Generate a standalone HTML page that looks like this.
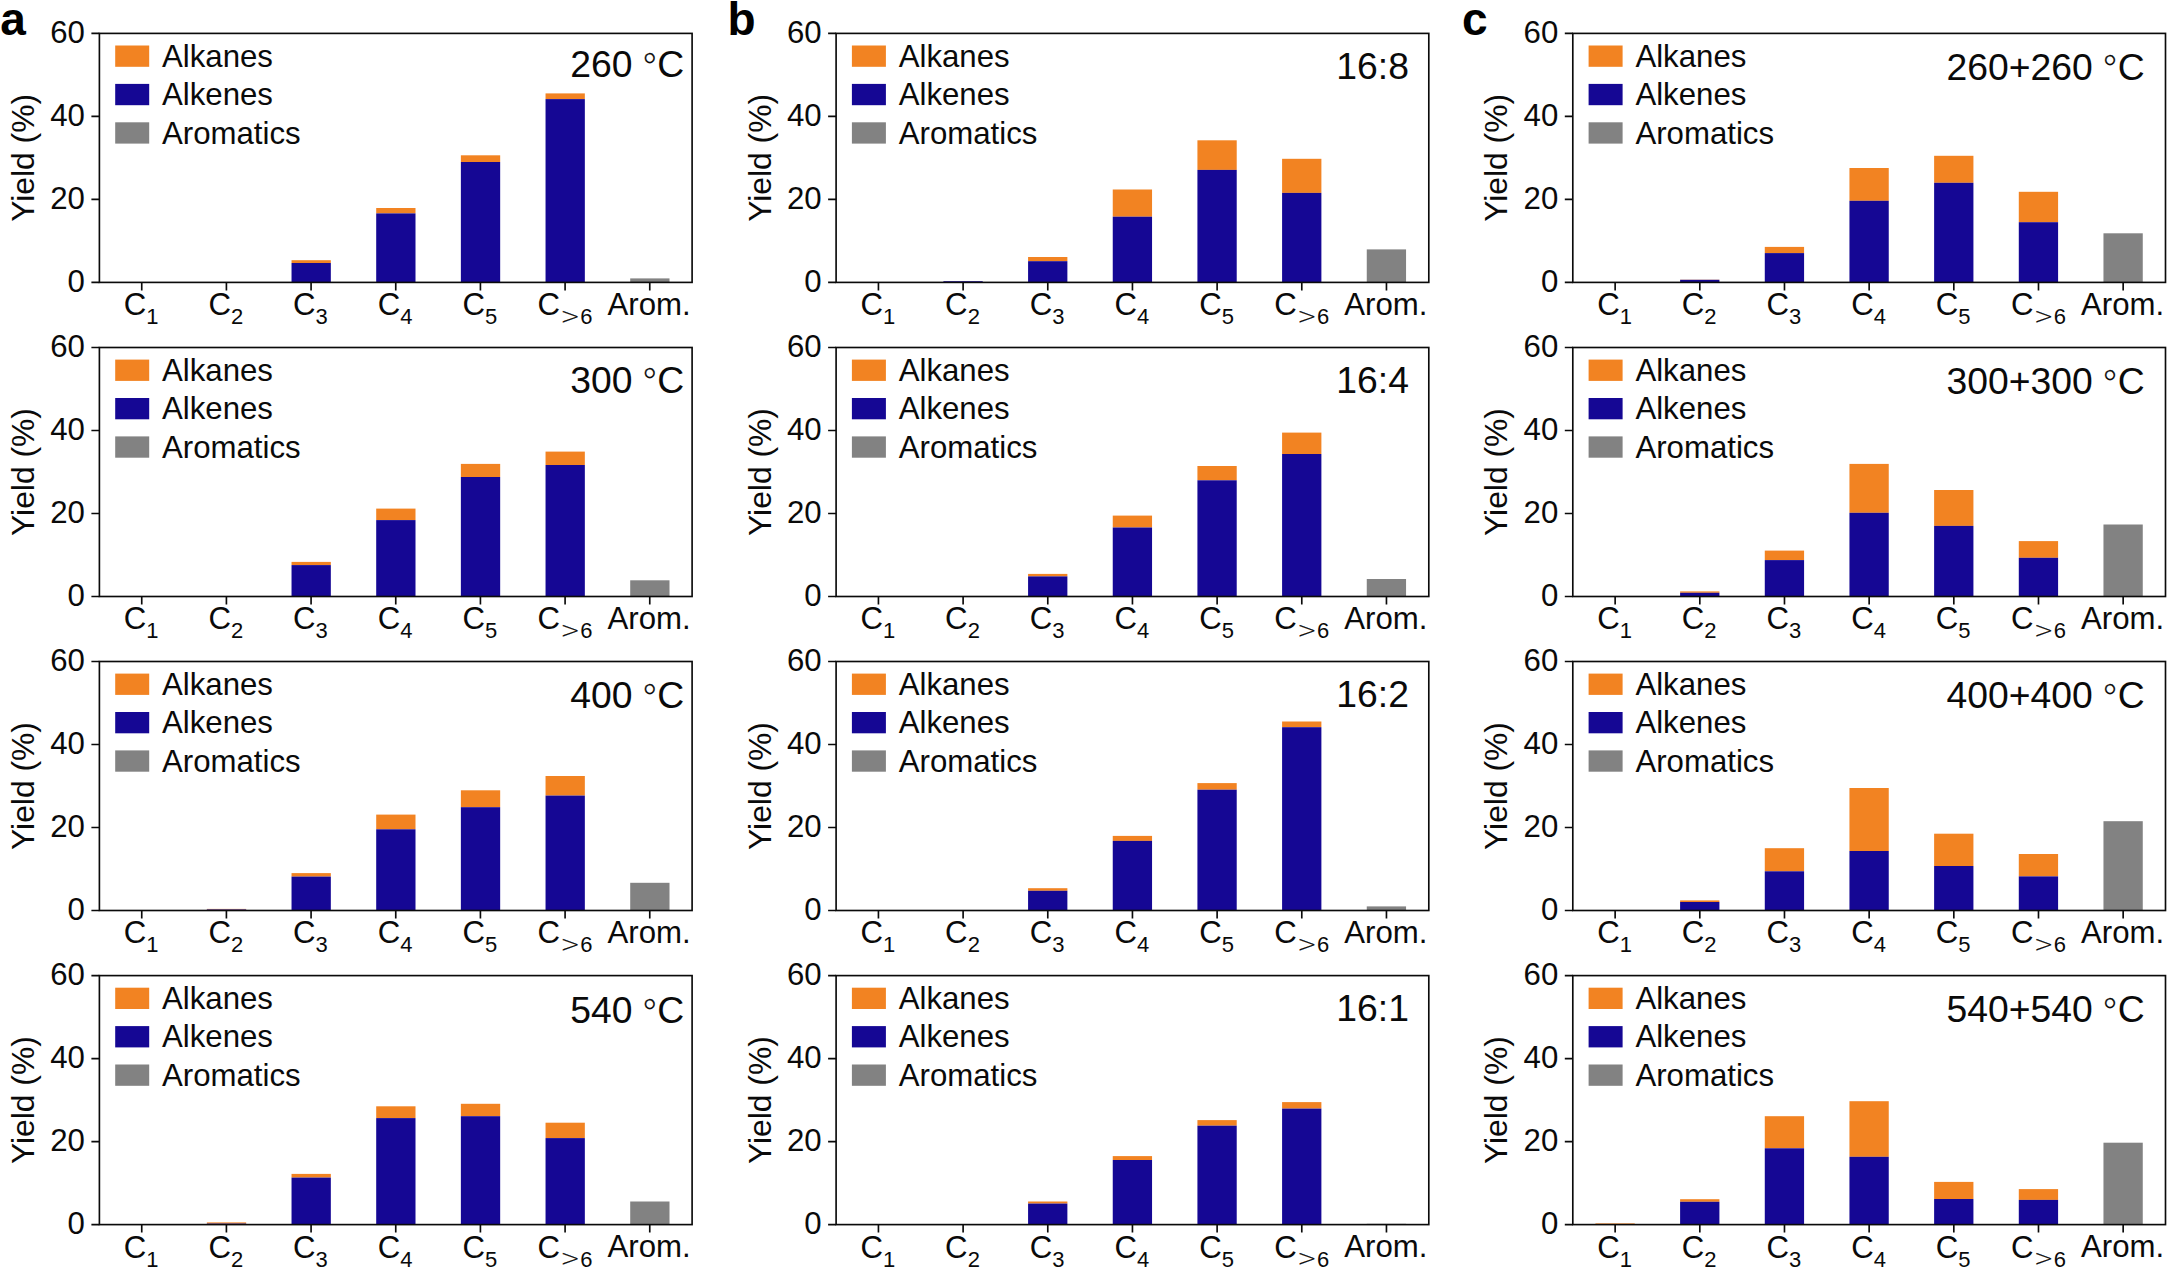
<!DOCTYPE html>
<html lang="en"><head><meta charset="utf-8"><title>Yield distributions</title>
<style>html,body{margin:0;padding:0;background:#fff}body{width:2168px;height:1268px;overflow:hidden}svg{display:block}</style>
</head><body>
<svg width="2168" height="1268" viewBox="0 0 2168 1268" font-family="'Liberation Sans', Arial, sans-serif" fill="#0a0a0a">
<rect width="2168" height="1268" fill="#fff"/>
<g>
<rect x="291.53" y="260.2" width="39.3" height="2.8" fill="#F28322"/>
<rect x="291.53" y="263" width="39.3" height="19.4" fill="#150794"/>
<rect x="376.2" y="208" width="39.3" height="5.4" fill="#F28322"/>
<rect x="376.2" y="213.4" width="39.3" height="69" fill="#150794"/>
<rect x="460.87" y="155.3" width="39.3" height="6.7" fill="#F28322"/>
<rect x="460.87" y="162" width="39.3" height="120.4" fill="#150794"/>
<rect x="545.54" y="93.4" width="39.3" height="5.7" fill="#F28322"/>
<rect x="545.54" y="99.1" width="39.3" height="183.3" fill="#150794"/>
<rect x="630.21" y="278.4" width="39.3" height="4" fill="#828282"/>
<rect x="99.4" y="33.4" width="592.7" height="249" fill="none" stroke="#0a0a0a" stroke-width="1.65"/>
<path d="M99.4 282.4h-8M99.4 199.4h-8M99.4 116.4h-8M99.4 33.4h-8M141.74 282.4v8M226.41 282.4v8M311.08 282.4v8M395.75 282.4v8M480.42 282.4v8M565.09 282.4v8M649.76 282.4v8" stroke="#0a0a0a" stroke-width="1.65" fill="none"/>
<text x="84.9" y="292.1" font-size="31.2" text-anchor="end">0</text>
<text x="84.9" y="209.1" font-size="31.2" text-anchor="end">20</text>
<text x="84.9" y="126.1" font-size="31.2" text-anchor="end">40</text>
<text x="84.9" y="43.1" font-size="31.2" text-anchor="end">60</text>
<text x="141.14" y="315.3" font-size="31.2" text-anchor="middle">C<tspan dy="9.0" font-size="22.0">1</tspan></text>
<text x="225.81" y="315.3" font-size="31.2" text-anchor="middle">C<tspan dy="9.0" font-size="22.0">2</tspan></text>
<text x="310.48" y="315.3" font-size="31.2" text-anchor="middle">C<tspan dy="9.0" font-size="22.0">3</tspan></text>
<text x="395.15" y="315.3" font-size="31.2" text-anchor="middle">C<tspan dy="9.0" font-size="22.0">4</tspan></text>
<text x="479.82" y="315.3" font-size="31.2" text-anchor="middle">C<tspan dy="9.0" font-size="22.0">5</tspan></text>
<text x="537.49" y="315.3" font-size="31.2">C</text>
<text x="570.29" y="324" font-size="23.2" text-anchor="middle" font-family="'DejaVu Sans Light', 'DejaVu Sans', sans-serif" font-weight="200" stroke="#0a0a0a" stroke-width="0.25">&gt;</text>
<text x="586.49" y="324.3" font-size="22.0" text-anchor="middle">6</text>
<text x="649.16" y="314.8" font-size="31.2" text-anchor="middle">Arom.</text>
<text transform="translate(34 157.9) rotate(-90)" font-size="31.8" text-anchor="middle">Yield (%)</text>
<rect x="115.2" y="45.5" width="34" height="21.3" fill="#F28322"/>
<text x="162" y="66.7" font-size="31.2">Alkanes</text>
<rect x="115.2" y="83.9" width="34" height="21.3" fill="#150794"/>
<text x="162" y="105.1" font-size="31.2">Alkenes</text>
<rect x="115.2" y="122.3" width="34" height="21.3" fill="#828282"/>
<text x="162" y="143.5" font-size="31.2">Aromatics</text>
<text x="684.3" y="77.3" font-size="37.3" text-anchor="end" xml:space="preserve">260 <tspan font-family="'DejaVu Sans Light', 'DejaVu Sans', sans-serif" font-weight="200" font-size="37" dx="-2.3" dy="2.8" stroke="#0a0a0a" stroke-width="0.2">°</tspan><tspan dx="-1.6" dy="-2.8">C</tspan></text>
</g>
<g>
<rect x="291.53" y="561.9" width="39.3" height="3.2" fill="#F28322"/>
<rect x="291.53" y="565.1" width="39.3" height="31.4" fill="#150794"/>
<rect x="376.2" y="508.6" width="39.3" height="11.5" fill="#F28322"/>
<rect x="376.2" y="520.1" width="39.3" height="76.4" fill="#150794"/>
<rect x="460.87" y="463.9" width="39.3" height="13.1" fill="#F28322"/>
<rect x="460.87" y="477" width="39.3" height="119.5" fill="#150794"/>
<rect x="545.54" y="451.6" width="39.3" height="13.4" fill="#F28322"/>
<rect x="545.54" y="465" width="39.3" height="131.5" fill="#150794"/>
<rect x="630.21" y="580.3" width="39.3" height="16.2" fill="#828282"/>
<rect x="99.4" y="347.5" width="592.7" height="249" fill="none" stroke="#0a0a0a" stroke-width="1.65"/>
<path d="M99.4 596.5h-8M99.4 513.5h-8M99.4 430.5h-8M99.4 347.5h-8M141.74 596.5v8M226.41 596.5v8M311.08 596.5v8M395.75 596.5v8M480.42 596.5v8M565.09 596.5v8M649.76 596.5v8" stroke="#0a0a0a" stroke-width="1.65" fill="none"/>
<text x="84.9" y="606.2" font-size="31.2" text-anchor="end">0</text>
<text x="84.9" y="523.2" font-size="31.2" text-anchor="end">20</text>
<text x="84.9" y="440.2" font-size="31.2" text-anchor="end">40</text>
<text x="84.9" y="357.2" font-size="31.2" text-anchor="end">60</text>
<text x="141.14" y="629.4" font-size="31.2" text-anchor="middle">C<tspan dy="9.0" font-size="22.0">1</tspan></text>
<text x="225.81" y="629.4" font-size="31.2" text-anchor="middle">C<tspan dy="9.0" font-size="22.0">2</tspan></text>
<text x="310.48" y="629.4" font-size="31.2" text-anchor="middle">C<tspan dy="9.0" font-size="22.0">3</tspan></text>
<text x="395.15" y="629.4" font-size="31.2" text-anchor="middle">C<tspan dy="9.0" font-size="22.0">4</tspan></text>
<text x="479.82" y="629.4" font-size="31.2" text-anchor="middle">C<tspan dy="9.0" font-size="22.0">5</tspan></text>
<text x="537.49" y="629.4" font-size="31.2">C</text>
<text x="570.29" y="638.1" font-size="23.2" text-anchor="middle" font-family="'DejaVu Sans Light', 'DejaVu Sans', sans-serif" font-weight="200" stroke="#0a0a0a" stroke-width="0.25">&gt;</text>
<text x="586.49" y="638.4" font-size="22.0" text-anchor="middle">6</text>
<text x="649.16" y="628.9" font-size="31.2" text-anchor="middle">Arom.</text>
<text transform="translate(34 472) rotate(-90)" font-size="31.8" text-anchor="middle">Yield (%)</text>
<rect x="115.2" y="359.6" width="34" height="21.3" fill="#F28322"/>
<text x="162" y="380.8" font-size="31.2">Alkanes</text>
<rect x="115.2" y="398" width="34" height="21.3" fill="#150794"/>
<text x="162" y="419.2" font-size="31.2">Alkenes</text>
<rect x="115.2" y="436.4" width="34" height="21.3" fill="#828282"/>
<text x="162" y="457.6" font-size="31.2">Aromatics</text>
<text x="684.3" y="392.6" font-size="37.3" text-anchor="end" xml:space="preserve">300 <tspan font-family="'DejaVu Sans Light', 'DejaVu Sans', sans-serif" font-weight="200" font-size="37" dx="-2.3" dy="2.8" stroke="#0a0a0a" stroke-width="0.2">°</tspan><tspan dx="-1.6" dy="-2.8">C</tspan></text>
</g>
<g>
<rect x="206.86" y="908.9" width="39.3" height="0.6" fill="#F28322"/>
<rect x="206.86" y="909.5" width="39.3" height="1" fill="#150794"/>
<rect x="291.53" y="873.1" width="39.3" height="3.5" fill="#F28322"/>
<rect x="291.53" y="876.6" width="39.3" height="33.9" fill="#150794"/>
<rect x="376.2" y="814.6" width="39.3" height="14.7" fill="#F28322"/>
<rect x="376.2" y="829.3" width="39.3" height="81.2" fill="#150794"/>
<rect x="460.87" y="790.3" width="39.3" height="16.9" fill="#F28322"/>
<rect x="460.87" y="807.2" width="39.3" height="103.3" fill="#150794"/>
<rect x="545.54" y="776" width="39.3" height="19.6" fill="#F28322"/>
<rect x="545.54" y="795.6" width="39.3" height="114.9" fill="#150794"/>
<rect x="630.21" y="882.8" width="39.3" height="27.7" fill="#828282"/>
<rect x="99.4" y="661.5" width="592.7" height="249" fill="none" stroke="#0a0a0a" stroke-width="1.65"/>
<path d="M99.4 910.5h-8M99.4 827.5h-8M99.4 744.5h-8M99.4 661.5h-8M141.74 910.5v8M226.41 910.5v8M311.08 910.5v8M395.75 910.5v8M480.42 910.5v8M565.09 910.5v8M649.76 910.5v8" stroke="#0a0a0a" stroke-width="1.65" fill="none"/>
<text x="84.9" y="920.2" font-size="31.2" text-anchor="end">0</text>
<text x="84.9" y="837.2" font-size="31.2" text-anchor="end">20</text>
<text x="84.9" y="754.2" font-size="31.2" text-anchor="end">40</text>
<text x="84.9" y="671.2" font-size="31.2" text-anchor="end">60</text>
<text x="141.14" y="943.4" font-size="31.2" text-anchor="middle">C<tspan dy="9.0" font-size="22.0">1</tspan></text>
<text x="225.81" y="943.4" font-size="31.2" text-anchor="middle">C<tspan dy="9.0" font-size="22.0">2</tspan></text>
<text x="310.48" y="943.4" font-size="31.2" text-anchor="middle">C<tspan dy="9.0" font-size="22.0">3</tspan></text>
<text x="395.15" y="943.4" font-size="31.2" text-anchor="middle">C<tspan dy="9.0" font-size="22.0">4</tspan></text>
<text x="479.82" y="943.4" font-size="31.2" text-anchor="middle">C<tspan dy="9.0" font-size="22.0">5</tspan></text>
<text x="537.49" y="943.4" font-size="31.2">C</text>
<text x="570.29" y="952.1" font-size="23.2" text-anchor="middle" font-family="'DejaVu Sans Light', 'DejaVu Sans', sans-serif" font-weight="200" stroke="#0a0a0a" stroke-width="0.25">&gt;</text>
<text x="586.49" y="952.4" font-size="22.0" text-anchor="middle">6</text>
<text x="649.16" y="942.9" font-size="31.2" text-anchor="middle">Arom.</text>
<text transform="translate(34 786) rotate(-90)" font-size="31.8" text-anchor="middle">Yield (%)</text>
<rect x="115.2" y="673.6" width="34" height="21.3" fill="#F28322"/>
<text x="162" y="694.8" font-size="31.2">Alkanes</text>
<rect x="115.2" y="712" width="34" height="21.3" fill="#150794"/>
<text x="162" y="733.2" font-size="31.2">Alkenes</text>
<rect x="115.2" y="750.4" width="34" height="21.3" fill="#828282"/>
<text x="162" y="771.6" font-size="31.2">Aromatics</text>
<text x="684.3" y="707.7" font-size="37.3" text-anchor="end" xml:space="preserve">400 <tspan font-family="'DejaVu Sans Light', 'DejaVu Sans', sans-serif" font-weight="200" font-size="37" dx="-2.3" dy="2.8" stroke="#0a0a0a" stroke-width="0.2">°</tspan><tspan dx="-1.6" dy="-2.8">C</tspan></text>
</g>
<g>
<rect x="206.86" y="1222.4" width="39.3" height="1.2" fill="#F28322"/>
<rect x="206.86" y="1223.6" width="39.3" height="1" fill="#150794"/>
<rect x="291.53" y="1173.9" width="39.3" height="3.7" fill="#F28322"/>
<rect x="291.53" y="1177.6" width="39.3" height="47" fill="#150794"/>
<rect x="376.2" y="1106.3" width="39.3" height="11.8" fill="#F28322"/>
<rect x="376.2" y="1118.1" width="39.3" height="106.5" fill="#150794"/>
<rect x="460.87" y="1103.8" width="39.3" height="12.4" fill="#F28322"/>
<rect x="460.87" y="1116.2" width="39.3" height="108.4" fill="#150794"/>
<rect x="545.54" y="1122.7" width="39.3" height="15.4" fill="#F28322"/>
<rect x="545.54" y="1138.1" width="39.3" height="86.5" fill="#150794"/>
<rect x="630.21" y="1201.5" width="39.3" height="23.1" fill="#828282"/>
<rect x="99.4" y="975.6" width="592.7" height="249" fill="none" stroke="#0a0a0a" stroke-width="1.65"/>
<path d="M99.4 1224.6h-8M99.4 1141.6h-8M99.4 1058.6h-8M99.4 975.6h-8M141.74 1224.6v8M226.41 1224.6v8M311.08 1224.6v8M395.75 1224.6v8M480.42 1224.6v8M565.09 1224.6v8M649.76 1224.6v8" stroke="#0a0a0a" stroke-width="1.65" fill="none"/>
<text x="84.9" y="1234.3" font-size="31.2" text-anchor="end">0</text>
<text x="84.9" y="1151.3" font-size="31.2" text-anchor="end">20</text>
<text x="84.9" y="1068.3" font-size="31.2" text-anchor="end">40</text>
<text x="84.9" y="985.3" font-size="31.2" text-anchor="end">60</text>
<text x="141.14" y="1257.5" font-size="31.2" text-anchor="middle">C<tspan dy="9.0" font-size="22.0">1</tspan></text>
<text x="225.81" y="1257.5" font-size="31.2" text-anchor="middle">C<tspan dy="9.0" font-size="22.0">2</tspan></text>
<text x="310.48" y="1257.5" font-size="31.2" text-anchor="middle">C<tspan dy="9.0" font-size="22.0">3</tspan></text>
<text x="395.15" y="1257.5" font-size="31.2" text-anchor="middle">C<tspan dy="9.0" font-size="22.0">4</tspan></text>
<text x="479.82" y="1257.5" font-size="31.2" text-anchor="middle">C<tspan dy="9.0" font-size="22.0">5</tspan></text>
<text x="537.49" y="1257.5" font-size="31.2">C</text>
<text x="570.29" y="1266.2" font-size="23.2" text-anchor="middle" font-family="'DejaVu Sans Light', 'DejaVu Sans', sans-serif" font-weight="200" stroke="#0a0a0a" stroke-width="0.25">&gt;</text>
<text x="586.49" y="1266.5" font-size="22.0" text-anchor="middle">6</text>
<text x="649.16" y="1257" font-size="31.2" text-anchor="middle">Arom.</text>
<text transform="translate(34 1100.1) rotate(-90)" font-size="31.8" text-anchor="middle">Yield (%)</text>
<rect x="115.2" y="987.7" width="34" height="21.3" fill="#F28322"/>
<text x="162" y="1008.9" font-size="31.2">Alkanes</text>
<rect x="115.2" y="1026.1" width="34" height="21.3" fill="#150794"/>
<text x="162" y="1047.3" font-size="31.2">Alkenes</text>
<rect x="115.2" y="1064.5" width="34" height="21.3" fill="#828282"/>
<text x="162" y="1085.7" font-size="31.2">Aromatics</text>
<text x="684.3" y="1023.4" font-size="37.3" text-anchor="end" xml:space="preserve">540 <tspan font-family="'DejaVu Sans Light', 'DejaVu Sans', sans-serif" font-weight="200" font-size="37" dx="-2.3" dy="2.8" stroke="#0a0a0a" stroke-width="0.2">°</tspan><tspan dx="-1.6" dy="-2.8">C</tspan></text>
</g>
<g>
<rect x="943.41" y="281.2" width="39.3" height="0" fill="#F28322"/>
<rect x="943.41" y="281.2" width="39.3" height="1.2" fill="#150794"/>
<rect x="1028.08" y="257" width="39.3" height="4.2" fill="#F28322"/>
<rect x="1028.08" y="261.2" width="39.3" height="21.2" fill="#150794"/>
<rect x="1112.75" y="189.5" width="39.3" height="27.2" fill="#F28322"/>
<rect x="1112.75" y="216.7" width="39.3" height="65.7" fill="#150794"/>
<rect x="1197.42" y="140.3" width="39.3" height="29.6" fill="#F28322"/>
<rect x="1197.42" y="169.9" width="39.3" height="112.5" fill="#150794"/>
<rect x="1282.09" y="158.8" width="39.3" height="34.1" fill="#F28322"/>
<rect x="1282.09" y="192.9" width="39.3" height="89.5" fill="#150794"/>
<rect x="1366.76" y="249.4" width="39.3" height="33" fill="#828282"/>
<rect x="836.1" y="33.4" width="592.7" height="249" fill="none" stroke="#0a0a0a" stroke-width="1.65"/>
<path d="M836.1 282.4h-8M836.1 199.4h-8M836.1 116.4h-8M836.1 33.4h-8M878.44 282.4v8M963.11 282.4v8M1047.78 282.4v8M1132.45 282.4v8M1217.12 282.4v8M1301.79 282.4v8M1386.46 282.4v8" stroke="#0a0a0a" stroke-width="1.65" fill="none"/>
<text x="821.6" y="292.1" font-size="31.2" text-anchor="end">0</text>
<text x="821.6" y="209.1" font-size="31.2" text-anchor="end">20</text>
<text x="821.6" y="126.1" font-size="31.2" text-anchor="end">40</text>
<text x="821.6" y="43.1" font-size="31.2" text-anchor="end">60</text>
<text x="877.84" y="315.3" font-size="31.2" text-anchor="middle">C<tspan dy="9.0" font-size="22.0">1</tspan></text>
<text x="962.51" y="315.3" font-size="31.2" text-anchor="middle">C<tspan dy="9.0" font-size="22.0">2</tspan></text>
<text x="1047.18" y="315.3" font-size="31.2" text-anchor="middle">C<tspan dy="9.0" font-size="22.0">3</tspan></text>
<text x="1131.85" y="315.3" font-size="31.2" text-anchor="middle">C<tspan dy="9.0" font-size="22.0">4</tspan></text>
<text x="1216.52" y="315.3" font-size="31.2" text-anchor="middle">C<tspan dy="9.0" font-size="22.0">5</tspan></text>
<text x="1274.19" y="315.3" font-size="31.2">C</text>
<text x="1306.99" y="324" font-size="23.2" text-anchor="middle" font-family="'DejaVu Sans Light', 'DejaVu Sans', sans-serif" font-weight="200" stroke="#0a0a0a" stroke-width="0.25">&gt;</text>
<text x="1323.19" y="324.3" font-size="22.0" text-anchor="middle">6</text>
<text x="1385.86" y="314.8" font-size="31.2" text-anchor="middle">Arom.</text>
<text transform="translate(770.7 157.9) rotate(-90)" font-size="31.8" text-anchor="middle">Yield (%)</text>
<rect x="851.9" y="45.5" width="34" height="21.3" fill="#F28322"/>
<text x="898.7" y="66.7" font-size="31.2">Alkanes</text>
<rect x="851.9" y="83.9" width="34" height="21.3" fill="#150794"/>
<text x="898.7" y="105.1" font-size="31.2">Alkenes</text>
<rect x="851.9" y="122.3" width="34" height="21.3" fill="#828282"/>
<text x="898.7" y="143.5" font-size="31.2">Aromatics</text>
<text x="1336.3" y="79.1" font-size="37.3" text-anchor="start" xml:space="preserve">16:8</text>
</g>
<g>
<rect x="1028.08" y="573.9" width="39.3" height="2.5" fill="#F28322"/>
<rect x="1028.08" y="576.4" width="39.3" height="20.1" fill="#150794"/>
<rect x="1112.75" y="515.6" width="39.3" height="11.9" fill="#F28322"/>
<rect x="1112.75" y="527.5" width="39.3" height="69" fill="#150794"/>
<rect x="1197.42" y="466" width="39.3" height="14.3" fill="#F28322"/>
<rect x="1197.42" y="480.3" width="39.3" height="116.2" fill="#150794"/>
<rect x="1282.09" y="432.6" width="39.3" height="21.4" fill="#F28322"/>
<rect x="1282.09" y="454" width="39.3" height="142.5" fill="#150794"/>
<rect x="1366.76" y="579" width="39.3" height="17.5" fill="#828282"/>
<rect x="836.1" y="347.5" width="592.7" height="249" fill="none" stroke="#0a0a0a" stroke-width="1.65"/>
<path d="M836.1 596.5h-8M836.1 513.5h-8M836.1 430.5h-8M836.1 347.5h-8M878.44 596.5v8M963.11 596.5v8M1047.78 596.5v8M1132.45 596.5v8M1217.12 596.5v8M1301.79 596.5v8M1386.46 596.5v8" stroke="#0a0a0a" stroke-width="1.65" fill="none"/>
<text x="821.6" y="606.2" font-size="31.2" text-anchor="end">0</text>
<text x="821.6" y="523.2" font-size="31.2" text-anchor="end">20</text>
<text x="821.6" y="440.2" font-size="31.2" text-anchor="end">40</text>
<text x="821.6" y="357.2" font-size="31.2" text-anchor="end">60</text>
<text x="877.84" y="629.4" font-size="31.2" text-anchor="middle">C<tspan dy="9.0" font-size="22.0">1</tspan></text>
<text x="962.51" y="629.4" font-size="31.2" text-anchor="middle">C<tspan dy="9.0" font-size="22.0">2</tspan></text>
<text x="1047.18" y="629.4" font-size="31.2" text-anchor="middle">C<tspan dy="9.0" font-size="22.0">3</tspan></text>
<text x="1131.85" y="629.4" font-size="31.2" text-anchor="middle">C<tspan dy="9.0" font-size="22.0">4</tspan></text>
<text x="1216.52" y="629.4" font-size="31.2" text-anchor="middle">C<tspan dy="9.0" font-size="22.0">5</tspan></text>
<text x="1274.19" y="629.4" font-size="31.2">C</text>
<text x="1306.99" y="638.1" font-size="23.2" text-anchor="middle" font-family="'DejaVu Sans Light', 'DejaVu Sans', sans-serif" font-weight="200" stroke="#0a0a0a" stroke-width="0.25">&gt;</text>
<text x="1323.19" y="638.4" font-size="22.0" text-anchor="middle">6</text>
<text x="1385.86" y="628.9" font-size="31.2" text-anchor="middle">Arom.</text>
<text transform="translate(770.7 472) rotate(-90)" font-size="31.8" text-anchor="middle">Yield (%)</text>
<rect x="851.9" y="359.6" width="34" height="21.3" fill="#F28322"/>
<text x="898.7" y="380.8" font-size="31.2">Alkanes</text>
<rect x="851.9" y="398" width="34" height="21.3" fill="#150794"/>
<text x="898.7" y="419.2" font-size="31.2">Alkenes</text>
<rect x="851.9" y="436.4" width="34" height="21.3" fill="#828282"/>
<text x="898.7" y="457.6" font-size="31.2">Aromatics</text>
<text x="1336.3" y="393.2" font-size="37.3" text-anchor="start" xml:space="preserve">16:4</text>
</g>
<g>
<rect x="1028.08" y="888.2" width="39.3" height="2.6" fill="#F28322"/>
<rect x="1028.08" y="890.8" width="39.3" height="19.7" fill="#150794"/>
<rect x="1112.75" y="835.9" width="39.3" height="5" fill="#F28322"/>
<rect x="1112.75" y="840.9" width="39.3" height="69.6" fill="#150794"/>
<rect x="1197.42" y="783.1" width="39.3" height="6.6" fill="#F28322"/>
<rect x="1197.42" y="789.7" width="39.3" height="120.8" fill="#150794"/>
<rect x="1282.09" y="721.5" width="39.3" height="5.7" fill="#F28322"/>
<rect x="1282.09" y="727.2" width="39.3" height="183.3" fill="#150794"/>
<rect x="1366.76" y="906.4" width="39.3" height="4.1" fill="#828282"/>
<rect x="836.1" y="661.5" width="592.7" height="249" fill="none" stroke="#0a0a0a" stroke-width="1.65"/>
<path d="M836.1 910.5h-8M836.1 827.5h-8M836.1 744.5h-8M836.1 661.5h-8M878.44 910.5v8M963.11 910.5v8M1047.78 910.5v8M1132.45 910.5v8M1217.12 910.5v8M1301.79 910.5v8M1386.46 910.5v8" stroke="#0a0a0a" stroke-width="1.65" fill="none"/>
<text x="821.6" y="920.2" font-size="31.2" text-anchor="end">0</text>
<text x="821.6" y="837.2" font-size="31.2" text-anchor="end">20</text>
<text x="821.6" y="754.2" font-size="31.2" text-anchor="end">40</text>
<text x="821.6" y="671.2" font-size="31.2" text-anchor="end">60</text>
<text x="877.84" y="943.4" font-size="31.2" text-anchor="middle">C<tspan dy="9.0" font-size="22.0">1</tspan></text>
<text x="962.51" y="943.4" font-size="31.2" text-anchor="middle">C<tspan dy="9.0" font-size="22.0">2</tspan></text>
<text x="1047.18" y="943.4" font-size="31.2" text-anchor="middle">C<tspan dy="9.0" font-size="22.0">3</tspan></text>
<text x="1131.85" y="943.4" font-size="31.2" text-anchor="middle">C<tspan dy="9.0" font-size="22.0">4</tspan></text>
<text x="1216.52" y="943.4" font-size="31.2" text-anchor="middle">C<tspan dy="9.0" font-size="22.0">5</tspan></text>
<text x="1274.19" y="943.4" font-size="31.2">C</text>
<text x="1306.99" y="952.1" font-size="23.2" text-anchor="middle" font-family="'DejaVu Sans Light', 'DejaVu Sans', sans-serif" font-weight="200" stroke="#0a0a0a" stroke-width="0.25">&gt;</text>
<text x="1323.19" y="952.4" font-size="22.0" text-anchor="middle">6</text>
<text x="1385.86" y="942.9" font-size="31.2" text-anchor="middle">Arom.</text>
<text transform="translate(770.7 786) rotate(-90)" font-size="31.8" text-anchor="middle">Yield (%)</text>
<rect x="851.9" y="673.6" width="34" height="21.3" fill="#F28322"/>
<text x="898.7" y="694.8" font-size="31.2">Alkanes</text>
<rect x="851.9" y="712" width="34" height="21.3" fill="#150794"/>
<text x="898.7" y="733.2" font-size="31.2">Alkenes</text>
<rect x="851.9" y="750.4" width="34" height="21.3" fill="#828282"/>
<text x="898.7" y="771.6" font-size="31.2">Aromatics</text>
<text x="1336.3" y="707.2" font-size="37.3" text-anchor="start" xml:space="preserve">16:2</text>
</g>
<g>
<rect x="1028.08" y="1201.5" width="39.3" height="2.1" fill="#F28322"/>
<rect x="1028.08" y="1203.6" width="39.3" height="21" fill="#150794"/>
<rect x="1112.75" y="1156.1" width="39.3" height="3.9" fill="#F28322"/>
<rect x="1112.75" y="1160" width="39.3" height="64.6" fill="#150794"/>
<rect x="1197.42" y="1120.1" width="39.3" height="5.6" fill="#F28322"/>
<rect x="1197.42" y="1125.7" width="39.3" height="98.9" fill="#150794"/>
<rect x="1282.09" y="1102.1" width="39.3" height="6.5" fill="#F28322"/>
<rect x="1282.09" y="1108.6" width="39.3" height="116" fill="#150794"/>
<rect x="1366.76" y="1223.8" width="39.3" height="0.8" fill="#828282"/>
<rect x="836.1" y="975.6" width="592.7" height="249" fill="none" stroke="#0a0a0a" stroke-width="1.65"/>
<path d="M836.1 1224.6h-8M836.1 1141.6h-8M836.1 1058.6h-8M836.1 975.6h-8M878.44 1224.6v8M963.11 1224.6v8M1047.78 1224.6v8M1132.45 1224.6v8M1217.12 1224.6v8M1301.79 1224.6v8M1386.46 1224.6v8" stroke="#0a0a0a" stroke-width="1.65" fill="none"/>
<text x="821.6" y="1234.3" font-size="31.2" text-anchor="end">0</text>
<text x="821.6" y="1151.3" font-size="31.2" text-anchor="end">20</text>
<text x="821.6" y="1068.3" font-size="31.2" text-anchor="end">40</text>
<text x="821.6" y="985.3" font-size="31.2" text-anchor="end">60</text>
<text x="877.84" y="1257.5" font-size="31.2" text-anchor="middle">C<tspan dy="9.0" font-size="22.0">1</tspan></text>
<text x="962.51" y="1257.5" font-size="31.2" text-anchor="middle">C<tspan dy="9.0" font-size="22.0">2</tspan></text>
<text x="1047.18" y="1257.5" font-size="31.2" text-anchor="middle">C<tspan dy="9.0" font-size="22.0">3</tspan></text>
<text x="1131.85" y="1257.5" font-size="31.2" text-anchor="middle">C<tspan dy="9.0" font-size="22.0">4</tspan></text>
<text x="1216.52" y="1257.5" font-size="31.2" text-anchor="middle">C<tspan dy="9.0" font-size="22.0">5</tspan></text>
<text x="1274.19" y="1257.5" font-size="31.2">C</text>
<text x="1306.99" y="1266.2" font-size="23.2" text-anchor="middle" font-family="'DejaVu Sans Light', 'DejaVu Sans', sans-serif" font-weight="200" stroke="#0a0a0a" stroke-width="0.25">&gt;</text>
<text x="1323.19" y="1266.5" font-size="22.0" text-anchor="middle">6</text>
<text x="1385.86" y="1257" font-size="31.2" text-anchor="middle">Arom.</text>
<text transform="translate(770.7 1100.1) rotate(-90)" font-size="31.8" text-anchor="middle">Yield (%)</text>
<rect x="851.9" y="987.7" width="34" height="21.3" fill="#F28322"/>
<text x="898.7" y="1008.9" font-size="31.2">Alkanes</text>
<rect x="851.9" y="1026.1" width="34" height="21.3" fill="#150794"/>
<text x="898.7" y="1047.3" font-size="31.2">Alkenes</text>
<rect x="851.9" y="1064.5" width="34" height="21.3" fill="#828282"/>
<text x="898.7" y="1085.7" font-size="31.2">Aromatics</text>
<text x="1336.3" y="1021.3" font-size="37.3" text-anchor="start" xml:space="preserve">16:1</text>
</g>
<g>
<rect x="1680.11" y="279.6" width="39.3" height="0.2" fill="#F28322"/>
<rect x="1680.11" y="279.8" width="39.3" height="2.6" fill="#150794"/>
<rect x="1764.78" y="246.9" width="39.3" height="6.2" fill="#F28322"/>
<rect x="1764.78" y="253.1" width="39.3" height="29.3" fill="#150794"/>
<rect x="1849.45" y="168" width="39.3" height="32.8" fill="#F28322"/>
<rect x="1849.45" y="200.8" width="39.3" height="81.6" fill="#150794"/>
<rect x="1934.12" y="155.8" width="39.3" height="27" fill="#F28322"/>
<rect x="1934.12" y="182.8" width="39.3" height="99.6" fill="#150794"/>
<rect x="2018.79" y="191.8" width="39.3" height="30.4" fill="#F28322"/>
<rect x="2018.79" y="222.2" width="39.3" height="60.2" fill="#150794"/>
<rect x="2103.46" y="233.3" width="39.3" height="49.1" fill="#828282"/>
<rect x="1572.8" y="33.4" width="592.7" height="249" fill="none" stroke="#0a0a0a" stroke-width="1.65"/>
<path d="M1572.8 282.4h-8M1572.8 199.4h-8M1572.8 116.4h-8M1572.8 33.4h-8M1615.14 282.4v8M1699.81 282.4v8M1784.48 282.4v8M1869.15 282.4v8M1953.82 282.4v8M2038.49 282.4v8M2123.16 282.4v8" stroke="#0a0a0a" stroke-width="1.65" fill="none"/>
<text x="1558.3" y="292.1" font-size="31.2" text-anchor="end">0</text>
<text x="1558.3" y="209.1" font-size="31.2" text-anchor="end">20</text>
<text x="1558.3" y="126.1" font-size="31.2" text-anchor="end">40</text>
<text x="1558.3" y="43.1" font-size="31.2" text-anchor="end">60</text>
<text x="1614.54" y="315.3" font-size="31.2" text-anchor="middle">C<tspan dy="9.0" font-size="22.0">1</tspan></text>
<text x="1699.21" y="315.3" font-size="31.2" text-anchor="middle">C<tspan dy="9.0" font-size="22.0">2</tspan></text>
<text x="1783.88" y="315.3" font-size="31.2" text-anchor="middle">C<tspan dy="9.0" font-size="22.0">3</tspan></text>
<text x="1868.55" y="315.3" font-size="31.2" text-anchor="middle">C<tspan dy="9.0" font-size="22.0">4</tspan></text>
<text x="1953.22" y="315.3" font-size="31.2" text-anchor="middle">C<tspan dy="9.0" font-size="22.0">5</tspan></text>
<text x="2010.89" y="315.3" font-size="31.2">C</text>
<text x="2043.69" y="324" font-size="23.2" text-anchor="middle" font-family="'DejaVu Sans Light', 'DejaVu Sans', sans-serif" font-weight="200" stroke="#0a0a0a" stroke-width="0.25">&gt;</text>
<text x="2059.89" y="324.3" font-size="22.0" text-anchor="middle">6</text>
<text x="2122.56" y="314.8" font-size="31.2" text-anchor="middle">Arom.</text>
<text transform="translate(1507.4 157.9) rotate(-90)" font-size="31.8" text-anchor="middle">Yield (%)</text>
<rect x="1588.6" y="45.5" width="34" height="21.3" fill="#F28322"/>
<text x="1635.4" y="66.7" font-size="31.2">Alkanes</text>
<rect x="1588.6" y="83.9" width="34" height="21.3" fill="#150794"/>
<text x="1635.4" y="105.1" font-size="31.2">Alkenes</text>
<rect x="1588.6" y="122.3" width="34" height="21.3" fill="#828282"/>
<text x="1635.4" y="143.5" font-size="31.2">Aromatics</text>
<text x="2144.6" y="79.6" font-size="37.3" text-anchor="end" xml:space="preserve">260+260 <tspan font-family="'DejaVu Sans Light', 'DejaVu Sans', sans-serif" font-weight="200" font-size="37" dx="-2.3" dy="2.8" stroke="#0a0a0a" stroke-width="0.2">°</tspan><tspan dx="-1.6" dy="-2.8">C</tspan></text>
</g>
<g>
<rect x="1680.11" y="591.4" width="39.3" height="1.4" fill="#F28322"/>
<rect x="1680.11" y="592.8" width="39.3" height="3.7" fill="#150794"/>
<rect x="1764.78" y="550.6" width="39.3" height="9.5" fill="#F28322"/>
<rect x="1764.78" y="560.1" width="39.3" height="36.4" fill="#150794"/>
<rect x="1849.45" y="463.9" width="39.3" height="48.9" fill="#F28322"/>
<rect x="1849.45" y="512.8" width="39.3" height="83.7" fill="#150794"/>
<rect x="1934.12" y="490" width="39.3" height="35.9" fill="#F28322"/>
<rect x="1934.12" y="525.9" width="39.3" height="70.6" fill="#150794"/>
<rect x="2018.79" y="541.1" width="39.3" height="16.7" fill="#F28322"/>
<rect x="2018.79" y="557.8" width="39.3" height="38.7" fill="#150794"/>
<rect x="2103.46" y="524.5" width="39.3" height="72" fill="#828282"/>
<rect x="1572.8" y="347.5" width="592.7" height="249" fill="none" stroke="#0a0a0a" stroke-width="1.65"/>
<path d="M1572.8 596.5h-8M1572.8 513.5h-8M1572.8 430.5h-8M1572.8 347.5h-8M1615.14 596.5v8M1699.81 596.5v8M1784.48 596.5v8M1869.15 596.5v8M1953.82 596.5v8M2038.49 596.5v8M2123.16 596.5v8" stroke="#0a0a0a" stroke-width="1.65" fill="none"/>
<text x="1558.3" y="606.2" font-size="31.2" text-anchor="end">0</text>
<text x="1558.3" y="523.2" font-size="31.2" text-anchor="end">20</text>
<text x="1558.3" y="440.2" font-size="31.2" text-anchor="end">40</text>
<text x="1558.3" y="357.2" font-size="31.2" text-anchor="end">60</text>
<text x="1614.54" y="629.4" font-size="31.2" text-anchor="middle">C<tspan dy="9.0" font-size="22.0">1</tspan></text>
<text x="1699.21" y="629.4" font-size="31.2" text-anchor="middle">C<tspan dy="9.0" font-size="22.0">2</tspan></text>
<text x="1783.88" y="629.4" font-size="31.2" text-anchor="middle">C<tspan dy="9.0" font-size="22.0">3</tspan></text>
<text x="1868.55" y="629.4" font-size="31.2" text-anchor="middle">C<tspan dy="9.0" font-size="22.0">4</tspan></text>
<text x="1953.22" y="629.4" font-size="31.2" text-anchor="middle">C<tspan dy="9.0" font-size="22.0">5</tspan></text>
<text x="2010.89" y="629.4" font-size="31.2">C</text>
<text x="2043.69" y="638.1" font-size="23.2" text-anchor="middle" font-family="'DejaVu Sans Light', 'DejaVu Sans', sans-serif" font-weight="200" stroke="#0a0a0a" stroke-width="0.25">&gt;</text>
<text x="2059.89" y="638.4" font-size="22.0" text-anchor="middle">6</text>
<text x="2122.56" y="628.9" font-size="31.2" text-anchor="middle">Arom.</text>
<text transform="translate(1507.4 472) rotate(-90)" font-size="31.8" text-anchor="middle">Yield (%)</text>
<rect x="1588.6" y="359.6" width="34" height="21.3" fill="#F28322"/>
<text x="1635.4" y="380.8" font-size="31.2">Alkanes</text>
<rect x="1588.6" y="398" width="34" height="21.3" fill="#150794"/>
<text x="1635.4" y="419.2" font-size="31.2">Alkenes</text>
<rect x="1588.6" y="436.4" width="34" height="21.3" fill="#828282"/>
<text x="1635.4" y="457.6" font-size="31.2">Aromatics</text>
<text x="2144.6" y="393.7" font-size="37.3" text-anchor="end" xml:space="preserve">300+300 <tspan font-family="'DejaVu Sans Light', 'DejaVu Sans', sans-serif" font-weight="200" font-size="37" dx="-2.3" dy="2.8" stroke="#0a0a0a" stroke-width="0.2">°</tspan><tspan dx="-1.6" dy="-2.8">C</tspan></text>
</g>
<g>
<rect x="1680.11" y="900.4" width="39.3" height="1.6" fill="#F28322"/>
<rect x="1680.11" y="902" width="39.3" height="8.5" fill="#150794"/>
<rect x="1764.78" y="848.2" width="39.3" height="23.1" fill="#F28322"/>
<rect x="1764.78" y="871.3" width="39.3" height="39.2" fill="#150794"/>
<rect x="1849.45" y="788" width="39.3" height="63" fill="#F28322"/>
<rect x="1849.45" y="851" width="39.3" height="59.5" fill="#150794"/>
<rect x="1934.12" y="833.7" width="39.3" height="32.3" fill="#F28322"/>
<rect x="1934.12" y="866" width="39.3" height="44.5" fill="#150794"/>
<rect x="2018.79" y="854" width="39.3" height="22.4" fill="#F28322"/>
<rect x="2018.79" y="876.4" width="39.3" height="34.1" fill="#150794"/>
<rect x="2103.46" y="821.2" width="39.3" height="89.3" fill="#828282"/>
<rect x="1572.8" y="661.5" width="592.7" height="249" fill="none" stroke="#0a0a0a" stroke-width="1.65"/>
<path d="M1572.8 910.5h-8M1572.8 827.5h-8M1572.8 744.5h-8M1572.8 661.5h-8M1615.14 910.5v8M1699.81 910.5v8M1784.48 910.5v8M1869.15 910.5v8M1953.82 910.5v8M2038.49 910.5v8M2123.16 910.5v8" stroke="#0a0a0a" stroke-width="1.65" fill="none"/>
<text x="1558.3" y="920.2" font-size="31.2" text-anchor="end">0</text>
<text x="1558.3" y="837.2" font-size="31.2" text-anchor="end">20</text>
<text x="1558.3" y="754.2" font-size="31.2" text-anchor="end">40</text>
<text x="1558.3" y="671.2" font-size="31.2" text-anchor="end">60</text>
<text x="1614.54" y="943.4" font-size="31.2" text-anchor="middle">C<tspan dy="9.0" font-size="22.0">1</tspan></text>
<text x="1699.21" y="943.4" font-size="31.2" text-anchor="middle">C<tspan dy="9.0" font-size="22.0">2</tspan></text>
<text x="1783.88" y="943.4" font-size="31.2" text-anchor="middle">C<tspan dy="9.0" font-size="22.0">3</tspan></text>
<text x="1868.55" y="943.4" font-size="31.2" text-anchor="middle">C<tspan dy="9.0" font-size="22.0">4</tspan></text>
<text x="1953.22" y="943.4" font-size="31.2" text-anchor="middle">C<tspan dy="9.0" font-size="22.0">5</tspan></text>
<text x="2010.89" y="943.4" font-size="31.2">C</text>
<text x="2043.69" y="952.1" font-size="23.2" text-anchor="middle" font-family="'DejaVu Sans Light', 'DejaVu Sans', sans-serif" font-weight="200" stroke="#0a0a0a" stroke-width="0.25">&gt;</text>
<text x="2059.89" y="952.4" font-size="22.0" text-anchor="middle">6</text>
<text x="2122.56" y="942.9" font-size="31.2" text-anchor="middle">Arom.</text>
<text transform="translate(1507.4 786) rotate(-90)" font-size="31.8" text-anchor="middle">Yield (%)</text>
<rect x="1588.6" y="673.6" width="34" height="21.3" fill="#F28322"/>
<text x="1635.4" y="694.8" font-size="31.2">Alkanes</text>
<rect x="1588.6" y="712" width="34" height="21.3" fill="#150794"/>
<text x="1635.4" y="733.2" font-size="31.2">Alkenes</text>
<rect x="1588.6" y="750.4" width="34" height="21.3" fill="#828282"/>
<text x="1635.4" y="771.6" font-size="31.2">Aromatics</text>
<text x="2144.6" y="707.7" font-size="37.3" text-anchor="end" xml:space="preserve">400+400 <tspan font-family="'DejaVu Sans Light', 'DejaVu Sans', sans-serif" font-weight="200" font-size="37" dx="-2.3" dy="2.8" stroke="#0a0a0a" stroke-width="0.2">°</tspan><tspan dx="-1.6" dy="-2.8">C</tspan></text>
</g>
<g>
<rect x="1595.44" y="1223.4" width="39.3" height="0.8" fill="#F28322"/>
<rect x="1595.44" y="1224.2" width="39.3" height="0.4" fill="#150794"/>
<rect x="1680.11" y="1199.2" width="39.3" height="2.6" fill="#F28322"/>
<rect x="1680.11" y="1201.8" width="39.3" height="22.8" fill="#150794"/>
<rect x="1764.78" y="1116.2" width="39.3" height="32.1" fill="#F28322"/>
<rect x="1764.78" y="1148.3" width="39.3" height="76.3" fill="#150794"/>
<rect x="1849.45" y="1101.2" width="39.3" height="55.6" fill="#F28322"/>
<rect x="1849.45" y="1156.8" width="39.3" height="67.8" fill="#150794"/>
<rect x="1934.12" y="1181.9" width="39.3" height="17.1" fill="#F28322"/>
<rect x="1934.12" y="1199" width="39.3" height="25.6" fill="#150794"/>
<rect x="2018.79" y="1189.1" width="39.3" height="10.8" fill="#F28322"/>
<rect x="2018.79" y="1199.9" width="39.3" height="24.7" fill="#150794"/>
<rect x="2103.46" y="1142.7" width="39.3" height="81.9" fill="#828282"/>
<rect x="1572.8" y="975.6" width="592.7" height="249" fill="none" stroke="#0a0a0a" stroke-width="1.65"/>
<path d="M1572.8 1224.6h-8M1572.8 1141.6h-8M1572.8 1058.6h-8M1572.8 975.6h-8M1615.14 1224.6v8M1699.81 1224.6v8M1784.48 1224.6v8M1869.15 1224.6v8M1953.82 1224.6v8M2038.49 1224.6v8M2123.16 1224.6v8" stroke="#0a0a0a" stroke-width="1.65" fill="none"/>
<text x="1558.3" y="1234.3" font-size="31.2" text-anchor="end">0</text>
<text x="1558.3" y="1151.3" font-size="31.2" text-anchor="end">20</text>
<text x="1558.3" y="1068.3" font-size="31.2" text-anchor="end">40</text>
<text x="1558.3" y="985.3" font-size="31.2" text-anchor="end">60</text>
<text x="1614.54" y="1257.5" font-size="31.2" text-anchor="middle">C<tspan dy="9.0" font-size="22.0">1</tspan></text>
<text x="1699.21" y="1257.5" font-size="31.2" text-anchor="middle">C<tspan dy="9.0" font-size="22.0">2</tspan></text>
<text x="1783.88" y="1257.5" font-size="31.2" text-anchor="middle">C<tspan dy="9.0" font-size="22.0">3</tspan></text>
<text x="1868.55" y="1257.5" font-size="31.2" text-anchor="middle">C<tspan dy="9.0" font-size="22.0">4</tspan></text>
<text x="1953.22" y="1257.5" font-size="31.2" text-anchor="middle">C<tspan dy="9.0" font-size="22.0">5</tspan></text>
<text x="2010.89" y="1257.5" font-size="31.2">C</text>
<text x="2043.69" y="1266.2" font-size="23.2" text-anchor="middle" font-family="'DejaVu Sans Light', 'DejaVu Sans', sans-serif" font-weight="200" stroke="#0a0a0a" stroke-width="0.25">&gt;</text>
<text x="2059.89" y="1266.5" font-size="22.0" text-anchor="middle">6</text>
<text x="2122.56" y="1257" font-size="31.2" text-anchor="middle">Arom.</text>
<text transform="translate(1507.4 1100.1) rotate(-90)" font-size="31.8" text-anchor="middle">Yield (%)</text>
<rect x="1588.6" y="987.7" width="34" height="21.3" fill="#F28322"/>
<text x="1635.4" y="1008.9" font-size="31.2">Alkanes</text>
<rect x="1588.6" y="1026.1" width="34" height="21.3" fill="#150794"/>
<text x="1635.4" y="1047.3" font-size="31.2">Alkenes</text>
<rect x="1588.6" y="1064.5" width="34" height="21.3" fill="#828282"/>
<text x="1635.4" y="1085.7" font-size="31.2">Aromatics</text>
<text x="2144.6" y="1021.8" font-size="37.3" text-anchor="end" xml:space="preserve">540+540 <tspan font-family="'DejaVu Sans Light', 'DejaVu Sans', sans-serif" font-weight="200" font-size="37" dx="-2.3" dy="2.8" stroke="#0a0a0a" stroke-width="0.2">°</tspan><tspan dx="-1.6" dy="-2.8">C</tspan></text>
</g>
<text x="0.3" y="35" font-size="46.0" font-weight="bold" fill="#000">a</text>
<text x="727.6" y="34.7" font-size="46.0" font-weight="bold" fill="#000">b</text>
<text x="1462" y="35.3" font-size="46.0" font-weight="bold" fill="#000">c</text>
</svg>
</body></html>
